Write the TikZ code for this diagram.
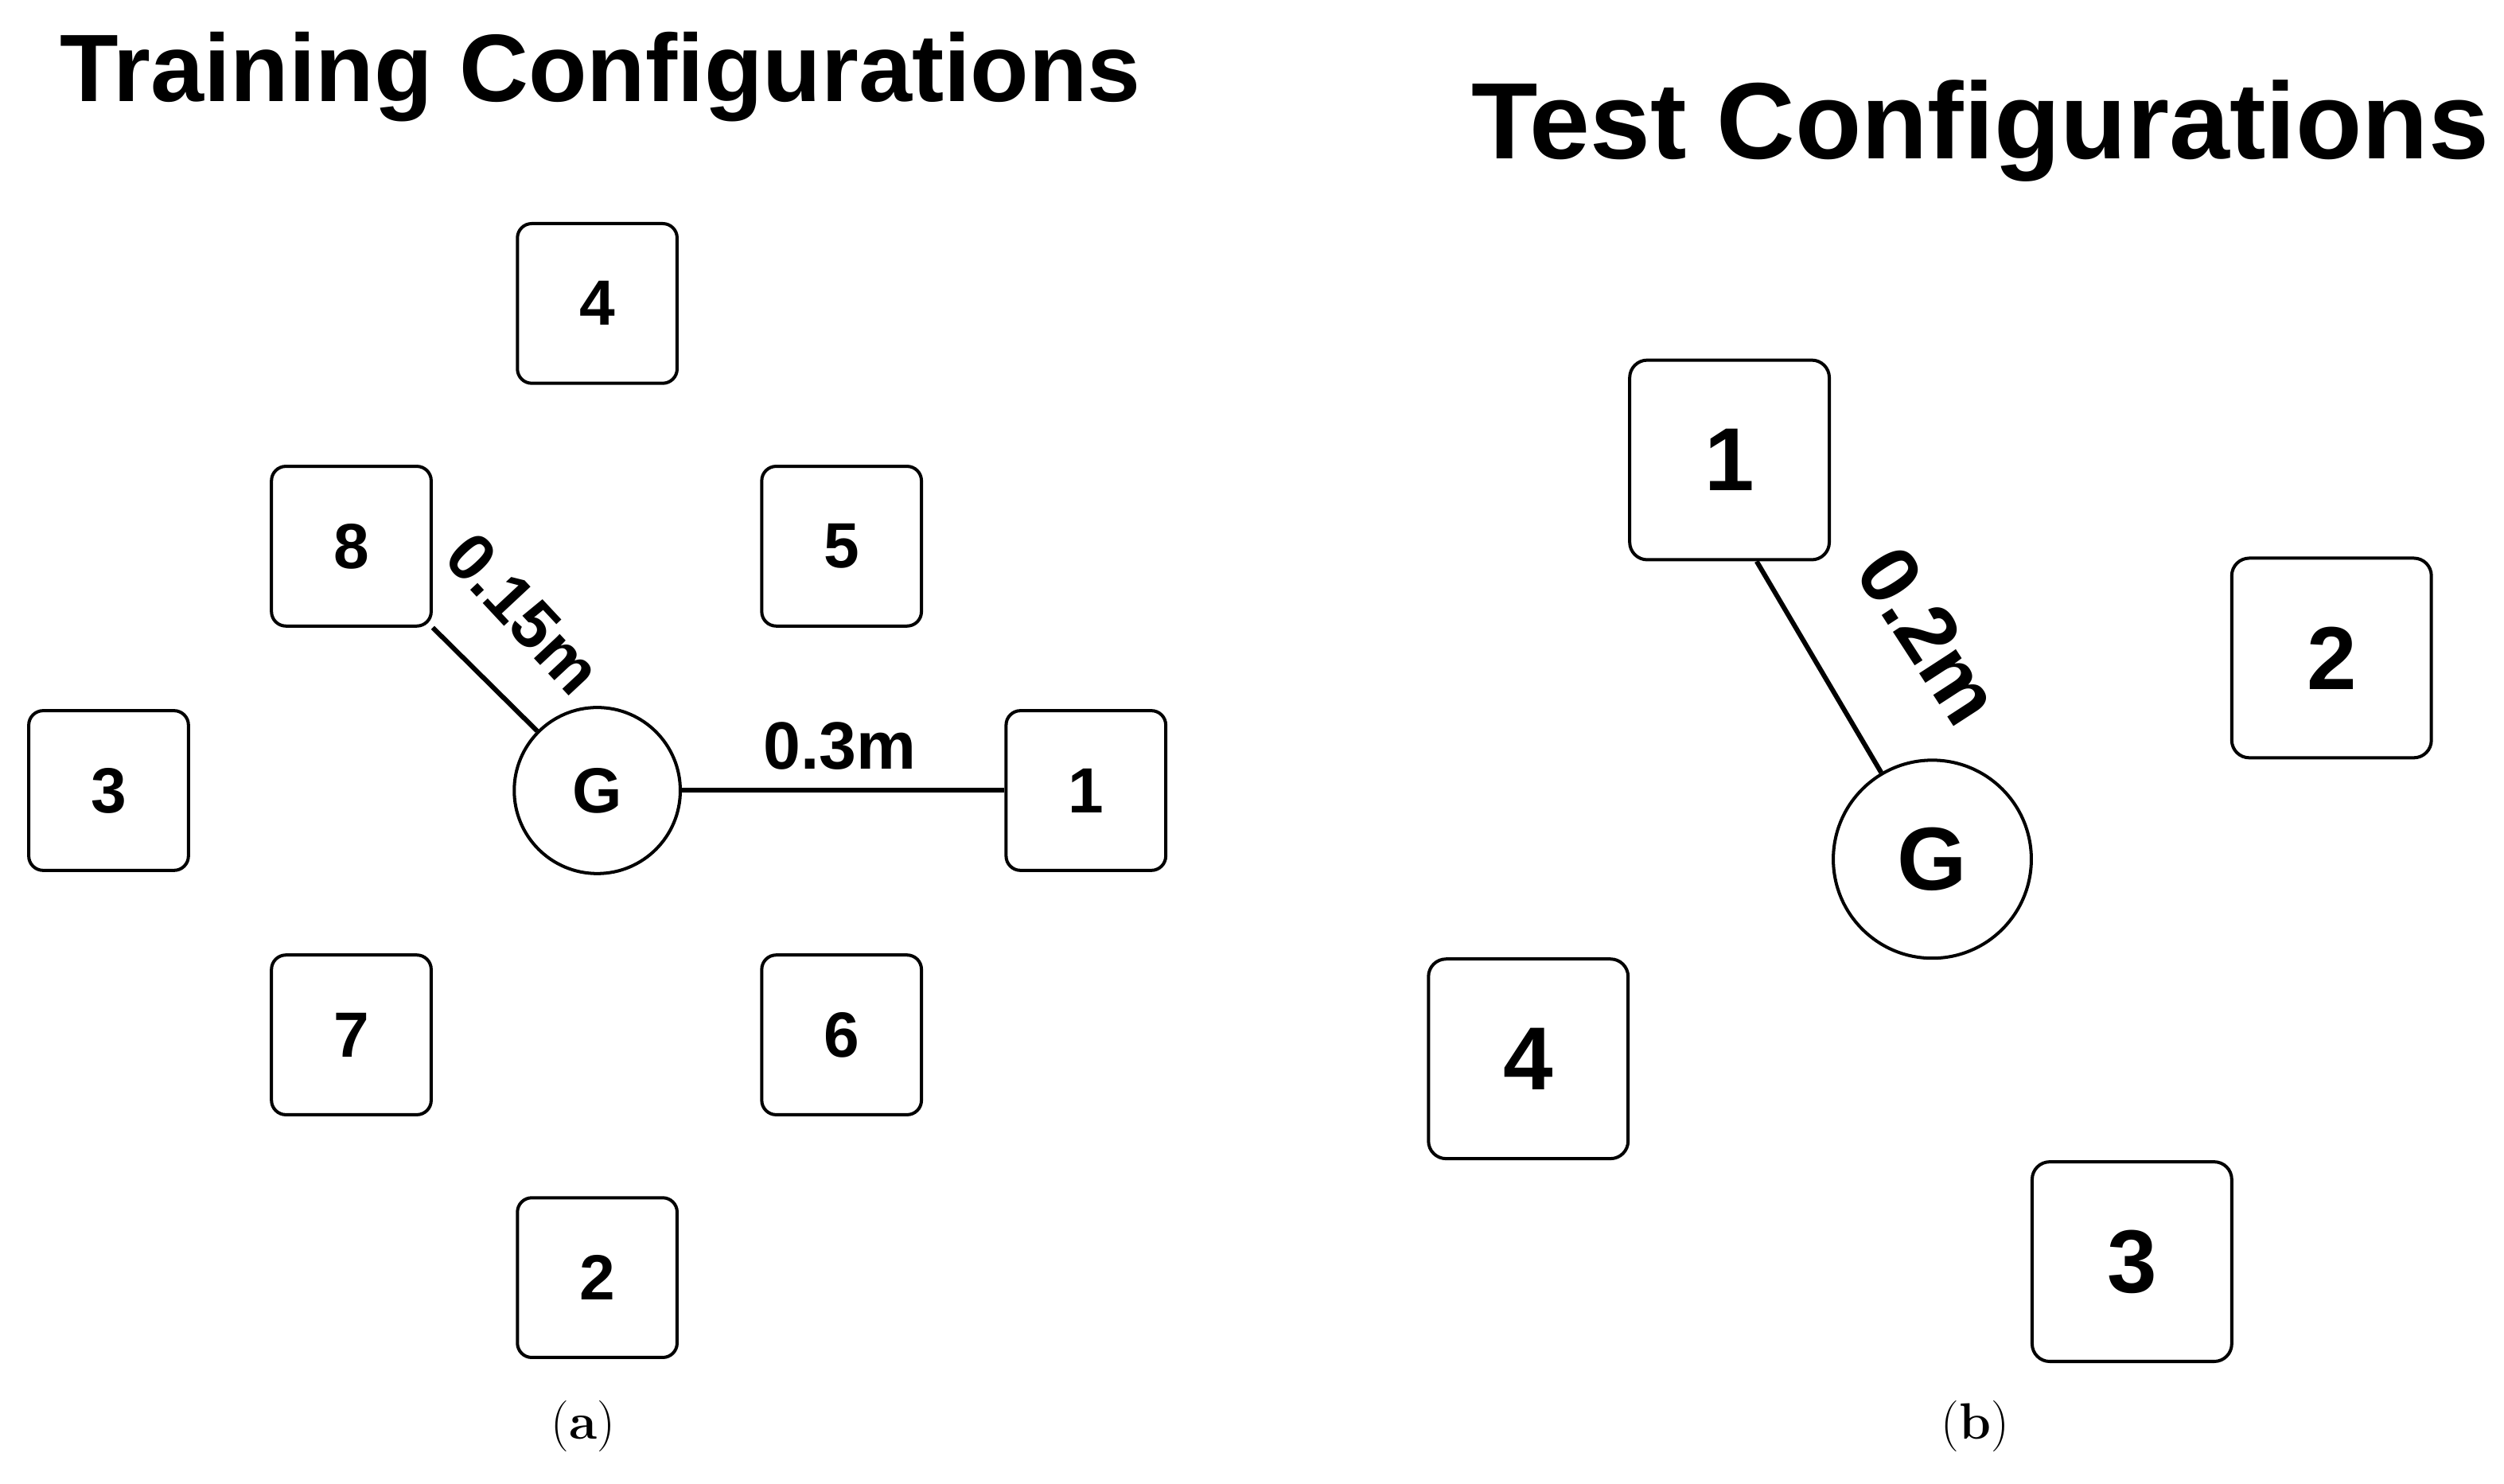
\documentclass[tikz,border=0pt]{standalone}
\usepackage{fontspec}
\setmainfont{Latin Modern Roman}
\newfontfamily\sans{Liberation Sans}
\begin{document}
\begin{tikzpicture}[x=1pt,y=-1pt,
  sbox/.style={draw,line width=2pt,rounded corners=9pt,minimum size=100pt,inner sep=0pt,font=\sans\bfseries\fontsize{40}{40}\selectfont},
  bbox/.style={draw,line width=2pt,rounded corners=11pt,minimum size=125pt,inner sep=0pt,font=\sans\bfseries\fontsize{56}{56}\selectfont},
  lnk/.style={line width=3pt},
  lbl/.style={font=\sans\bfseries\fontsize{42}{42}\selectfont,inner sep=1pt}]
\useasboundingbox (0,0) rectangle (1568,929);
\node[font=\sans\bfseries\fontsize{60}{60}\selectfont] (t1) at (376,48) {Training Configurations};
\node[font=\sans\bfseries\fontsize{68}{68}\selectfont] (t2) at (1240,82) {Test Configurations};
% left
\node[sbox] (a4) at (374,190) {4};
\node[sbox] (a8) at (220,342) {8};
\node[sbox] (a5) at (527,342) {5};
\node[sbox] (a3) at (68,495) {3};
\node[sbox,circle,rounded corners=0pt,minimum size=104pt] (aG) at (374,495) {G};
\node[sbox] (a1) at (680,495) {1};
\node[sbox] (a7) at (220,648) {7};
\node[sbox] (a6) at (527,648) {6};
\node[sbox] (a2) at (374,800) {2};
\draw[lnk] (a8.south east) -- (aG);
\draw[lnk] (aG) -- (a1);
\node[lbl,rotate=-47] (l1) at (328,384) {0.15m};
\node[lbl] (l2) at (526,467) {0.3m};
\node[font=\fontsize{32}{32}\selectfont] (ca) at (365,893) {(\textbf{a})};
% right
\node[bbox] (b1) at (1083,288) {1};
\node[bbox] (b2) at (1460,412) {2};
\node[bbox,circle,rounded corners=0pt,minimum size=124pt] (bG) at (1210,538) {G};
\node[bbox] (b4) at (957,663) {4};
\node[bbox] (b3) at (1335,790) {3};
\coordinate (bs) at ([xshift=17pt]b1.south);
\draw[lnk] (bs) -- (bG);
\node[lbl,font=\sans\bfseries\fontsize{52}{52}\selectfont,rotate=-57] (l3) at (1208,398) {0.2m};
\node[font=\fontsize{32}{32}\selectfont] (cb) at (1237,893) {(\textbf{b})};
\end{tikzpicture}
\end{document}
